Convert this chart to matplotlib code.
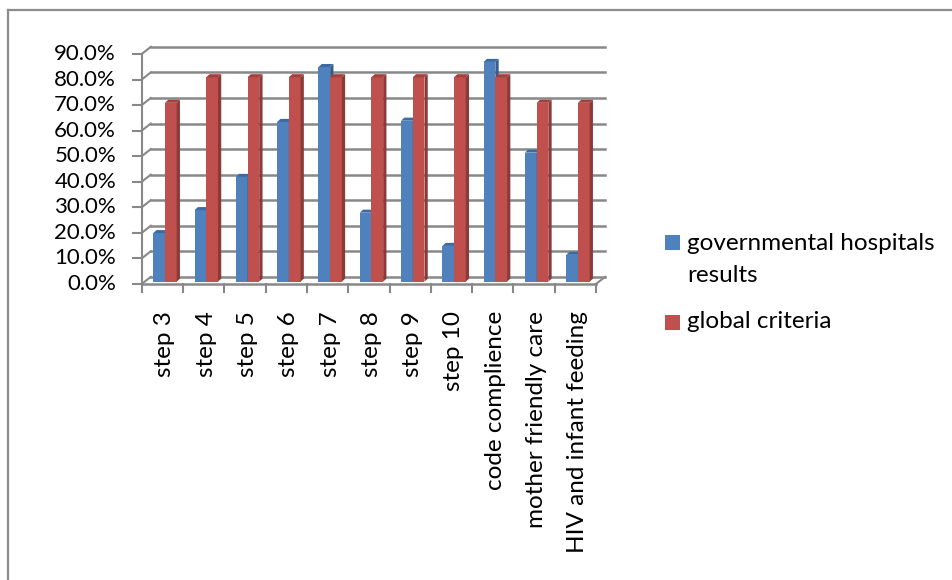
import matplotlib
matplotlib.use("Agg")
import matplotlib.pyplot as plt
from matplotlib.patches import Polygon, Rectangle
from matplotlib.lines import Line2D

plt.rcParams['font.family'] = ['Lato', 'DejaVu Sans']

categories = ["step 3", "step 4", "step 5", "step 6", "step 7", "step 8", "step 9",
              "step 10", "code complience", "mother friendly care", "HIV and infant feeding"]
gov_results = [19.0, 28.0, 41.0, 62.5, 84.0, 27.0, 63.0, 14.0, 86.0, 50.5, 10.5]
global_criteria = [70.0, 80.0, 80.0, 80.0, 80.0, 80.0, 80.0, 80.0, 80.0, 70.0, 70.0]
y_ticks = [0, 10, 20, 30, 40, 50, 60, 70, 80, 90]
series_names = ["governmental hospitals\nresults", "global criteria"]

BLUE = "#4F81BD"; BLUE_SIDE = "#385D8A"; BLUE_TOP = "#3C6AA3"
RED = "#C0504D"; RED_SIDE = "#8C3A38"; RED_TOP = "#A3403D"
GRID = "#888888"

W, H = 953, 580
fig = plt.figure(figsize=(W / 100, H / 100), dpi=100)

# frame
fig.add_artist(Line2D([8 / W, 1.0], [1 - 10 / H, 1 - 10 / H], color="#8C8C8C", lw=1.6))
fig.add_artist(Line2D([8 / W, 8 / W], [0, 1 - 10 / H], color="#8C8C8C", lw=1.6))

x0p, x1p = 141.7, 596.0
y0p, y1p = 284.0, 54.0
ax = fig.add_axes([x0p / W, 1 - y0p / H, (x1p - x0p) / W, (y0p - y1p) / H])
n = len(categories)
ax.set_xlim(0, n)
ax.set_ylim(0, 90)
ax.axis("off")

DX, DY = 0.22, 2.8  # depth offset of back wall in data units

# back wall gridlines and side-wall diagonals
for v in y_ticks:
    ax.plot([DX, n + DX], [v + DY, v + DY], color=GRID, lw=1.8, clip_on=False, zorder=1)
    ax.plot([0, DX], [v, v + DY], color=GRID, lw=1.5, clip_on=False, zorder=1)
    ax.plot([-0.21, 0], [v, v], color=GRID, lw=1.5, clip_on=False, zorder=1)
# front axis line
ax.plot([0, 0], [0, 90], color=GRID, lw=1.5, clip_on=False, zorder=1)
# floor
ax.plot([0, n], [0, 0], color=GRID, lw=1.8, clip_on=False, zorder=1)
ax.plot([n, n + DX], [0, DY], color=GRID, lw=1.5, clip_on=False, zorder=1)
for i in range(n + 1):
    ax.plot([i, i], [0, -3.3], color=GRID, lw=1.5, clip_on=False, zorder=1)

# bars
bw = 0.283
bx_off = 0.28
ddx, ddy = 0.08, 1.2
base = 0.9


def draw_bar(x, h, front, side, top):
    y0 = base
    y1 = base + h
    ax.add_patch(Rectangle((x, y0), bw, h, facecolor=front, edgecolor="none", zorder=3, clip_on=False))
    ax.add_patch(Polygon([(x + bw, y0), (x + bw + ddx, y0 + ddy), (x + bw + ddx, y1 + ddy), (x + bw, y1)],
                         closed=True, facecolor=side, edgecolor="none", zorder=3, clip_on=False))
    ax.add_patch(Polygon([(x, y1), (x + bw, y1), (x + bw + ddx, y1 + ddy), (x + ddx, y1 + ddy)],
                         closed=True, facecolor=top, edgecolor="none", zorder=3, clip_on=False))


for i in range(n):
    draw_bar(i + bx_off, gov_results[i], BLUE, BLUE_SIDE, BLUE_TOP)
    draw_bar(i + bx_off + bw, global_criteria[i], RED, RED_SIDE, RED_TOP)

FS_NUM = 16
FS = 17.5
for v in y_ticks:
    ax.text(-0.62, v, f"{v:.1f}%", ha="right", va="center", fontsize=FS_NUM, color="black", clip_on=False)

for i, c in enumerate(categories):
    ax.text(i + 0.56, -10.5, c, rotation=90, ha="center", va="top", fontsize=FS, color="black",
            clip_on=False, rotation_mode="default")

# legend
def fx(px):
    return px / W


def fy(py):
    return 1 - py / H


fig.add_artist(Rectangle((fx(665), fy(250)), 15 / W, 15 / H, facecolor=BLUE, edgecolor="none",
                         transform=fig.transFigure))
fig.text(fx(687), fy(243), "governmental hospitals", ha="left", va="center", fontsize=FS)
fig.text(fx(687), fy(275), "results", ha="left", va="center", fontsize=FS)
fig.add_artist(Rectangle((fx(665), fy(330)), 15 / W, 15 / H, facecolor=RED, edgecolor="none",
                         transform=fig.transFigure))
fig.text(fx(687), fy(322), series_names[1], ha="left", va="center", fontsize=FS)

fig.savefig("out.png", dpi=100, facecolor="white")
